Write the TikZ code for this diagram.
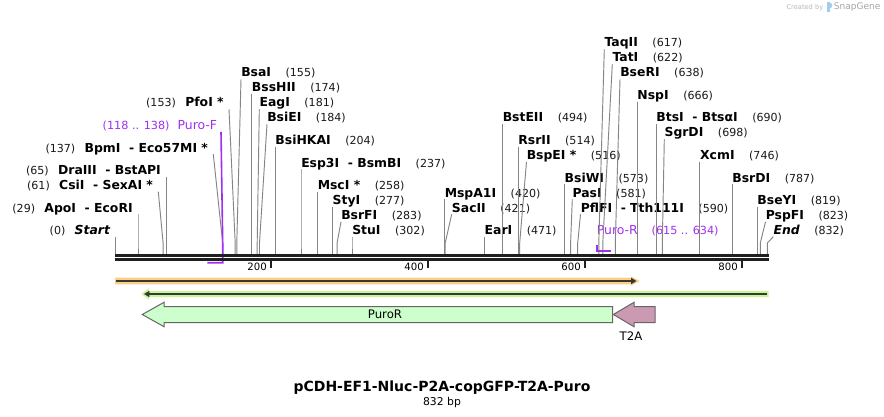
\documentclass[tikz,border=0pt]{standalone}
\usepackage{fontspec}
\setmainfont{DejaVu Sans}
\usetikzlibrary{positioning,arrows.meta}
\definecolor{puroviolet}{RGB}{160,48,240}
\definecolor{orfgold}{RGB}{251,207,132}
\definecolor{orfgreen}{RGB}{200,245,150}
\definecolor{cdsgreen}{RGB}{204,255,204}
\definecolor{tpink}{RGB}{204,153,179}
\definecolor{sgblue}{RGB}{160,205,240}
\tikzset{
  enz/.style={font=\bfseries\fontsize{9.3}{11}\selectfont, inner sep=0, text depth=1.5pt, anchor=base west},
  enzl/.style={enz, anchor=base east, outer xsep=4pt},
  num/.style={font=\fontsize{8.3}{10}\selectfont, inner sep=0, text=black!90},
  prlbl/.style={font=\fontsize{9.3}{11}\selectfont, inner sep=0, text depth=1.5pt, text=puroviolet},
  prnum/.style={font=\fontsize{8.4}{10}\selectfont, inner sep=0, text=puroviolet},
  lead/.style={black!48, line width=0.7pt},
  primer/.style={puroviolet, line width=1.2pt},
  axisline/.style={black!88, line width=1.7pt},
  tick/.style={black!88, line width=1.5pt},
  ticklbl/.style={font=\fontsize{7.6}{9}\selectfont, inner sep=0, anchor=base east},
  orfline/.style={black!78, line width=1.5pt},
  feat/.style={draw=black!60, line width=0.75pt},
  featlbl/.style={font=\fontsize{8.8}{10}\selectfont, inner sep=0},
}
\begin{document}
\begin{tikzpicture}[x=0.75pt,y=-0.75pt]
\fill[white] (0,0) rectangle (884,417);
\useasboundingbox (0,0) rectangle (884,417);

\coordinate (ax) at (0,255);
\coordinate (s0) at (115.3,243);
\coordinate (s29) at (138.0,243);
\coordinate (s61) at (163.1,243);
\coordinate (s65) at (166.2,243);
\coordinate (s137) at (222.7,243);
\coordinate (s153) at (235.2,243);
\coordinate (s155) at (236.8,243);
\coordinate (s174) at (251.7,243);
\coordinate (s181) at (257.2,243);
\coordinate (s184) at (259.5,243);
\coordinate (s204) at (275.2,243);
\coordinate (s237) at (301.0,243);
\coordinate (s258) at (317.5,243);
\coordinate (s277) at (332.4,243);
\coordinate (s283) at (337.1,243);
\coordinate (s302) at (352.0,243);
\coordinate (s420) at (444.5,243);
\coordinate (s421) at (445.2,243);
\coordinate (s471) at (484.4,243);
\coordinate (s494) at (502.5,243);
\coordinate (s514) at (518.1,243);
\coordinate (s516) at (519.7,243);
\coordinate (s573) at (564.4,243);
\coordinate (s581) at (570.6,243);
\coordinate (s590) at (577.7,243);
\coordinate (s617) at (598.8,243);
\coordinate (s622) at (602.8,243);
\coordinate (s638) at (615.3,243);
\coordinate (s666) at (637.2,243);
\coordinate (s690) at (656.1,243);
\coordinate (s698) at (662.3,243);
\coordinate (s746) at (699.9,243);
\coordinate (s787) at (732.1,243);
\coordinate (s819) at (757.2,243);
\coordinate (s823) at (760.3,243);
\coordinate (s832) at (767.3,243);

\node[enzl] (startlbl) at (115.3,234.5) {\itshape Start};
\node[num, base left=2.8pt of startlbl] (startn) {(0)};
\node[enzl] (apoi) at (138.0,212) {ApoI~~- EcoRI};
\node[num, base left=2.8pt of apoi] (apoin) {(29)};
\node[enzl] (csii) at (158.3,189.5) {CsiI~~- SexAI *};
\node[num, base left=2.8pt of csii] (csiin) {(61)};
\node[enzl] (draiii) at (166.2,174.5) {DraIII~~- BstAPI};
\node[num, base left=2.8pt of draiii] (draiiin) {(65)};
\node[enzl] (bpmi) at (213.3,152) {BpmI~~- Eco57MI *};
\node[num, base left=2.8pt of bpmi] (bpmin) {(137)};
\node[enzl] (pfoi) at (229,107) {PfoI *};
\node[num, base left=2.8pt of pfoi] (pfoin) {(153)};
\node[prlbl, anchor=base east, outer xsep=3pt] (purof) at (221,129.5) {Puro-F};
\node[prnum, base left=2.8pt of purof] (purofn) {(118 .. 138)};

\node[enz] (bsai) at (241,77) {BsaI};
\node[num, base right=10.5pt of bsai] (bsain) {(155)};
\node[enz] (bsshii) at (251.7,92) {BssHII};
\node[num, base right=10.5pt of bsshii] (bsshiin) {(174)};
\node[enz] (eagi) at (259.3,107) {EagI};
\node[num, base right=10.5pt of eagi] (eagin) {(181)};
\node[enz] (bsiei) at (267,122) {BsiEI};
\node[num, base right=10.5pt of bsiei] (bsiein) {(184)};
\node[enz] (bsihkai) at (275.2,144.5) {BsiHKAI};
\node[num, base right=10.5pt of bsihkai] (bsihkain) {(204)};
\node[enz] (esp3i) at (301.0,167) {Esp3I~~- BsmBI};
\node[num, base right=10.5pt of esp3i] (esp3in) {(237)};
\node[enz] (msci) at (317.5,189.5) {MscI *};
\node[num, base right=10.5pt of msci] (mscin) {(258)};
\node[enz] (styi) at (332.4,204.5) {StyI};
\node[num, base right=10.5pt of styi] (styin) {(277)};
\node[enz] (bsrfi) at (341,219.5) {BsrFI};
\node[num, base right=10.5pt of bsrfi] (bsrfin) {(283)};
\node[enz] (stui) at (352.0,234.5) {StuI};
\node[num, base right=10.5pt of stui] (stuin) {(302)};
\node[enz] (mspa1i) at (444.5,197) {MspA1I};
\node[num, base right=10.5pt of mspa1i] (mspa1in) {(420)};
\node[enz] (sacii) at (451.7,212) {SacII};
\node[num, base right=10.5pt of sacii] (saciin) {(421)};
\node[enz] (eari) at (484.4,234.5) {EarI};
\node[num, base right=10.5pt of eari] (earin) {(471)};
\node[enz] (bsteii) at (502.5,122) {BstEII};
\node[num, base right=10.5pt of bsteii] (bsteiin) {(494)};
\node[enz] (rsrii) at (518.1,144.5) {RsrII};
\node[num, base right=10.5pt of rsrii] (rsriin) {(514)};
\node[enz] (bspei) at (526.5,159.5) {BspEI *};
\node[num, base right=10.5pt of bspei] (bspein) {(516)};
\node[enz] (bsiwi) at (564.4,182) {BsiWI};
\node[num, base right=10.5pt of bsiwi] (bsiwin) {(573)};
\node[enz] (pasi) at (572.3,197) {PasI};
\node[num, base right=10.5pt of pasi] (pasin) {(581)};
\node[enz] (pflfi) at (580.5,212) {PflFI~~- Tth111I};
\node[num, base right=10.5pt of pflfi] (pflfin) {(590)};
\node[enz] (taqii) at (604.3,47) {TaqII};
\node[num, base right=10.5pt of taqii] (taqiin) {(617)};
\node[enz] (tati) at (612.3,62) {TatI};
\node[num, base right=10.5pt of tati] (tatin) {(622)};
\node[enz] (bseri) at (620,77) {BseRI};
\node[num, base right=10.5pt of bseri] (bserin) {(638)};
\node[enz] (nspi) at (637.2,99.5) {NspI};
\node[num, base right=10.5pt of nspi] (nspin) {(666)};
\node[enz] (btsi) at (656.1,122) {BtsI~~- BtsαI};
\node[num, base right=10.5pt of btsi] (btsin) {(690)};
\node[enz] (sgrdi) at (664.3,137) {SgrDI};
\node[num, base right=10.5pt of sgrdi] (sgrdin) {(698)};
\node[enz] (xcmi) at (699.9,159.5) {XcmI};
\node[num, base right=10.5pt of xcmi] (xcmin) {(746)};
\node[enz] (bsrdi) at (732.1,182) {BsrDI};
\node[num, base right=10.5pt of bsrdi] (bsrdin) {(787)};
\node[enz] (bseyi) at (757.2,204.5) {BseYI};
\node[num, base right=10.5pt of bseyi] (bseyin) {(819)};
\node[enz] (pspfi) at (765.5,219.5) {PspFI};
\node[num, base right=10.5pt of pspfi] (pspfin) {(823)};
\node[enz] (endlbl) at (773.3,234.5) {\itshape End};
\node[num, base right=10.5pt of endlbl] (endn) {(832)};
\node[prlbl, anchor=base west] (puror) at (596.7,234.5) {Puro-R};
\node[prnum, base right=10pt of puror] (purorn) {(615 .. 634)};

\draw[lead] (startlbl.south east) -- (s0) -- (s0 |- ax);
\draw[lead] (apoi.south east) -- (s29) -- (s29 |- ax);
\draw[lead] (csii.south east) -- (s61) -- (s61 |- ax);
\draw[lead] (draiii.south east) -- (s65) -- (s65 |- ax);
\draw[lead] (bpmi.south east) -- (s137) -- (s137 |- ax);
\draw[lead] (pfoi.south east) -- (s153) -- (s153 |- ax);
\draw[lead] (bsai.south west) -- (s155) -- (s155 |- ax);
\draw[lead] (bsshii.south west) -- (s174) -- (s174 |- ax);
\draw[lead] (eagi.south west) -- (s181) -- (s181 |- ax);
\draw[lead] (bsiei.south west) -- (s184) -- (s184 |- ax);
\draw[lead] (bsihkai.south west) -- (s204) -- (s204 |- ax);
\draw[lead] (esp3i.south west) -- (s237) -- (s237 |- ax);
\draw[lead] (msci.south west) -- (s258) -- (s258 |- ax);
\draw[lead] (styi.south west) -- (s277) -- (s277 |- ax);
\draw[lead] (bsrfi.south west) -- (s283) -- (s283 |- ax);
\draw[lead] (stui.south west) -- (s302) -- (s302 |- ax);
\draw[lead] (mspa1i.south west) -- (s420) -- (s420 |- ax);
\draw[lead] (sacii.south west) -- (s421) -- (s421 |- ax);
\draw[lead] (eari.south west) -- (s471) -- (s471 |- ax);
\draw[lead] (bsteii.south west) -- (s494) -- (s494 |- ax);
\draw[lead] (rsrii.south west) -- (s514) -- (s514 |- ax);
\draw[lead] (bspei.south west) -- (s516) -- (s516 |- ax);
\draw[lead] (bsiwi.south west) -- (s573) -- (s573 |- ax);
\draw[lead] (pasi.south west) -- (s581) -- (s581 |- ax);
\draw[lead] (pflfi.south west) -- (s590) -- (s590 |- ax);
\draw[lead] (taqii.south west) -- (s617) -- (s617 |- ax);
\draw[lead] (tati.south west) -- (s622) -- (s622 |- ax);
\draw[lead] (bseri.south west) -- (s638) -- (s638 |- ax);
\draw[lead] (nspi.south west) -- (s666) -- (s666 |- ax);
\draw[lead] (btsi.south west) -- (s690) -- (s690 |- ax);
\draw[lead] (sgrdi.south west) -- (s698) -- (s698 |- ax);
\draw[lead] (xcmi.south west) -- (s746) -- (s746 |- ax);
\draw[lead] (bsrdi.south west) -- (s787) -- (s787 |- ax);
\draw[lead] (bseyi.south west) -- (s819) -- (s819 |- ax);
\draw[lead] (pspfi.south west) -- (s823) -- (s823 |- ax);
\draw[lead] (endlbl.south west) -- (s832) -- (s832 |- ax);

\coordinate (pfa) at (222.7,262.7);
\coordinate (pfb) at (207.3,262.7);
\draw[primer] (purof.south east) -- (s137) -- (pfa) -- (pfb);
\coordinate (pra) at (596.7,244.5);
\coordinate (prb) at (596.7,251);
\coordinate (prc) at (610.7,251);
\draw[primer] (pra) -- (prb) -- (prc);

\draw[axisline] (115,255.5) -- (768.5,255.5);
\draw[axisline] (115,259.5) -- (768.5,259.5);
\draw[tick] (271,259.5) -- (271,267.8);
\draw[tick] (428,259.5) -- (428,267.8);
\draw[tick] (585,259.5) -- (585,267.8);
\draw[tick] (742,259.5) -- (742,267.8);
\node[ticklbl] (t200) at (267,270.3) {200};
\node[ticklbl] (t400) at (424,270.3) {400};
\node[ticklbl] (t600) at (581,270.3) {600};
\node[ticklbl] (t800) at (738,270.3) {800};

\fill[orfgold] (115,277.7) -- (631,277.7) -- (631,276.3) -- (639.5,281) -- (631,285.7) -- (631,284.3) -- (115,284.3) -- cycle;
\draw[orfline, -{Triangle[length=4pt,width=4.5pt]}] (116,281) -- (636.5,281);
\fill[orfgreen] (768.5,291) -- (149,291) -- (149,288.3) -- (141.5,294) -- (149,299.7) -- (149,297) -- (768.5,297) -- cycle;
\draw[orfline, -{Triangle[length=4pt,width=4.5pt]}] (767,294) -- (144,294);

\draw[feat, fill=cdsgreen] (612.7,306.5) -- (164,306.5) -- (164,302.3) -- (142.3,314.5) -- (164,326.7) -- (164,322.5) -- (612.7,322.5) -- cycle;
\draw[feat, fill=tpink] (655,306.5) -- (634,306.5) -- (634,302.3) -- (613.3,314.5) -- (634,326.7) -- (634,322.5) -- (655,322.5) -- cycle;
\node[featlbl] (purolbl) at (385,314.5) {PuroR};
\node[featlbl] (t2albl) at (631,336.5) {T2A};

\node[font=\bfseries\fontsize{10.5}{12}\selectfont, inner sep=0, anchor=base] (title) at (442,391) {pCDH-EF1-Nluc-P2A-copGFP-T2A-Puro};
\node[font=\fontsize{8.1}{10}\selectfont, inner sep=0, anchor=base] (bplen) at (442,405) {832 bp};

\node[font=\fontsize{5}{6}\selectfont, text=black!28, inner sep=0, anchor=base east] (created) at (823.5,10) {Created by};
\fill[sgblue] (827,2.5) rectangle (829.5,12);
\fill[sgblue] (829.5,2.5) -- (832,4) -- (832,7) -- (829.5,8.5) -- cycle;
\node[font=\fontsize{6.8}{8}\selectfont, text=black!35, inner sep=0, anchor=base west] (sg) at (833.5,10) {SnapGene};
\end{tikzpicture}
\end{document}
